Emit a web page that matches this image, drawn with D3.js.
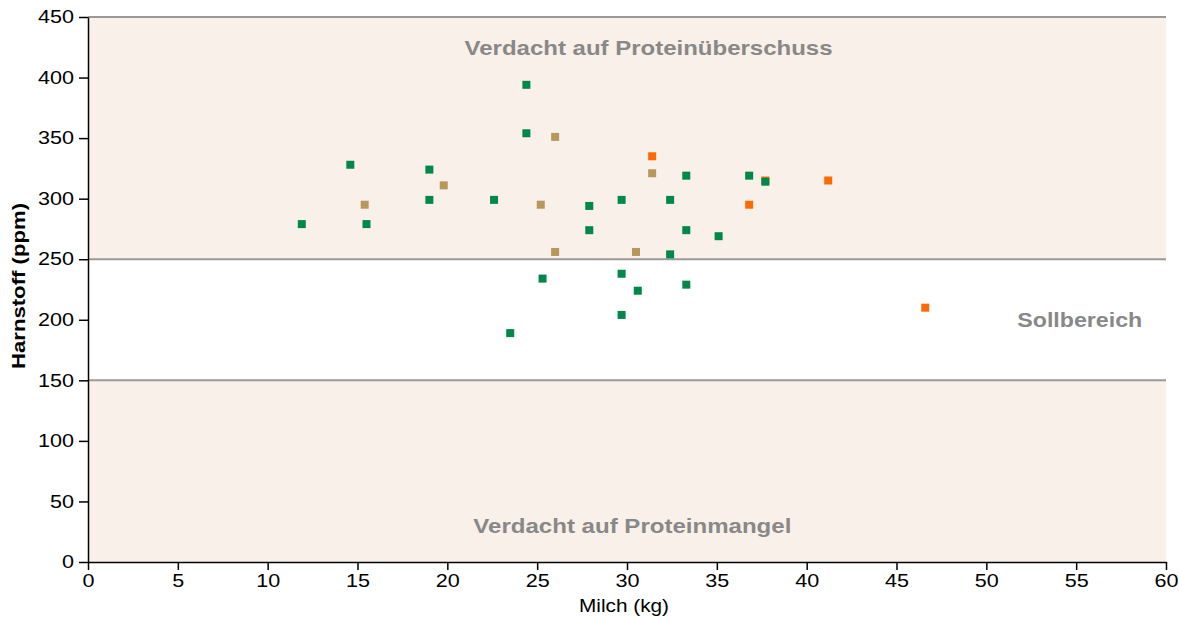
<!DOCTYPE html>
<html>
<head>
<meta charset="utf-8">
<script src="https://cdn.jsdelivr.net/npm/d3@7"></script>
<style>
  body { margin: 0; background: #fff; }
  svg { display: block; }
  text { font-family: "Liberation Sans", Arial, sans-serif; }
</style>
</head>
<body>
<svg id="chart" width="1179" height="621"></svg>
<script>
// milk (kg) / urea (ppm) per cow, three groups
var greenX = [11.9, 14.6, 15.5, 19.0, 19.0, 22.6, 24.4, 24.4, 23.5, 25.3, 27.9, 27.9, 29.7, 29.7, 29.7, 30.6, 32.4, 32.4, 33.3, 33.3, 33.3, 35.1, 36.8, 37.7];
var greenY = [279, 328, 279, 324, 299, 299, 394, 354, 189, 234, 294, 274, 299, 238, 204, 224, 299, 254, 319, 274, 229, 269, 319, 314];
var tanX = [15.4, 19.8, 25.2, 26.0, 26.0, 30.5, 31.4];
var tanY = [295, 311, 295, 351, 256, 256, 321];
var orangeX = [31.4, 36.8, 37.7, 41.2, 46.6];
var orangeY = [335, 295, 315, 315, 210];

var xTicks = d3.range(0, 61, 5);
var yTicks = d3.range(0, 451, 50);
var zones = [
  { from: 0, to: 150, fill: "#f9f0ea" },
  { from: 150, to: 250, fill: "#ffffff" },
  { from: 250, to: 450, fill: "#f9f0ea" }
];
var zoneLines = [150, 250, 450];
var zoneLabels = [
  { x: 31.2, y: 419, text: "Verdacht auf Proteinüberschuss", w: 368 },
  { x: 30.3, y: 24, text: "Verdacht auf Proteinmangel", w: 318 },
  { x: 55.2, y: 194, text: "Sollbereich", w: 125 }
];

var margin = { left: 88, right: 13, top: 17, bottom: 59 };
var W = 1179, H = 621;
var svg = d3.select("#chart");

var x = d3.scaleLinear().domain([0, 60]).range([margin.left, W - margin.right]);
var y = d3.scaleLinear().domain([0, 450]).range([H - margin.bottom, margin.top]);

// background zones
svg.append("g").selectAll("rect").data(zones).join("rect")
  .attr("x", x(0)).attr("width", x(60) - x(0))
  .attr("y", d => y(d.to)).attr("height", d => y(d.from) - y(d.to))
  .attr("fill", d => d.fill);

svg.append("g").selectAll("line").data(zoneLines).join("line")
  .attr("x1", x(0)).attr("x2", x(60))
  .attr("y1", d => y(d)).attr("y2", d => y(d))
  .attr("stroke", "#999").attr("stroke-width", 2);

svg.append("g").selectAll("text").data(zoneLabels).join("text")
  .attr("x", d => x(d.x)).attr("y", d => y(d.y))
  .attr("text-anchor", "middle")
  .attr("font-size", 21).attr("font-weight", "bold")
  .attr("fill", "#888")
  .attr("textLength", d => d.w).attr("lengthAdjust", "spacingAndGlyphs")
  .text(d => d.text);

// points
function drawPoints(xs, ys, color) {
  var pts = xs.map((v, i) => [v, ys[i]]);
  svg.append("g").selectAll("rect").data(pts).join("rect")
    .attr("x", d => x(d[0]) - 4).attr("y", d => y(d[1]) - 4)
    .attr("width", 8).attr("height", 8)
    .attr("fill", color);
}
drawPoints(tanX, tanY, "#b8985a");
drawPoints(orangeX, orangeY, "#ff6a00");
drawPoints(greenX, greenY, "#00884a");

// axes
var xAxis = svg.append("g")
  .attr("transform", "translate(0," + y(0) + ")")
  .call(d3.axisBottom(x).tickValues(xTicks).tickSize(8).tickPadding(4).tickSizeOuter(0));
var yAxis = svg.append("g")
  .attr("transform", "translate(" + x(0) + ",0)")
  .call(d3.axisLeft(y).tickValues(yTicks).tickSize(9).tickPadding(5).tickSizeOuter(0));

[xAxis, yAxis].forEach(function (g) {
  g.select(".domain").attr("stroke", "#000").attr("stroke-width", 1.5);
  g.selectAll(".tick line").attr("stroke", "#000").attr("stroke-width", 1.5);
  g.selectAll(".tick text")
    .attr("font-size", 18)
    .attr("font-family", "Liberation Sans, Arial, sans-serif")
    .attr("fill", "#000")
    .attr("textLength", d => String(d).length * 12)
    .attr("lengthAdjust", "spacingAndGlyphs");
});

svg.append("text")
  .attr("x", (x(0) + x(60)) / 2 - 3).attr("y", 612)
  .attr("text-anchor", "middle")
  .attr("font-size", 18)
  .attr("textLength", 90).attr("lengthAdjust", "spacingAndGlyphs")
  .text("Milch (kg)");

svg.append("text")
  .attr("transform", "translate(25," + 286 + ") rotate(-90)")
  .attr("text-anchor", "middle")
  .attr("font-size", 18).attr("font-weight", "bold")
  .attr("textLength", 166).attr("lengthAdjust", "spacingAndGlyphs")
  .text("Harnstoff (ppm)");
</script>
</body>
</html>
